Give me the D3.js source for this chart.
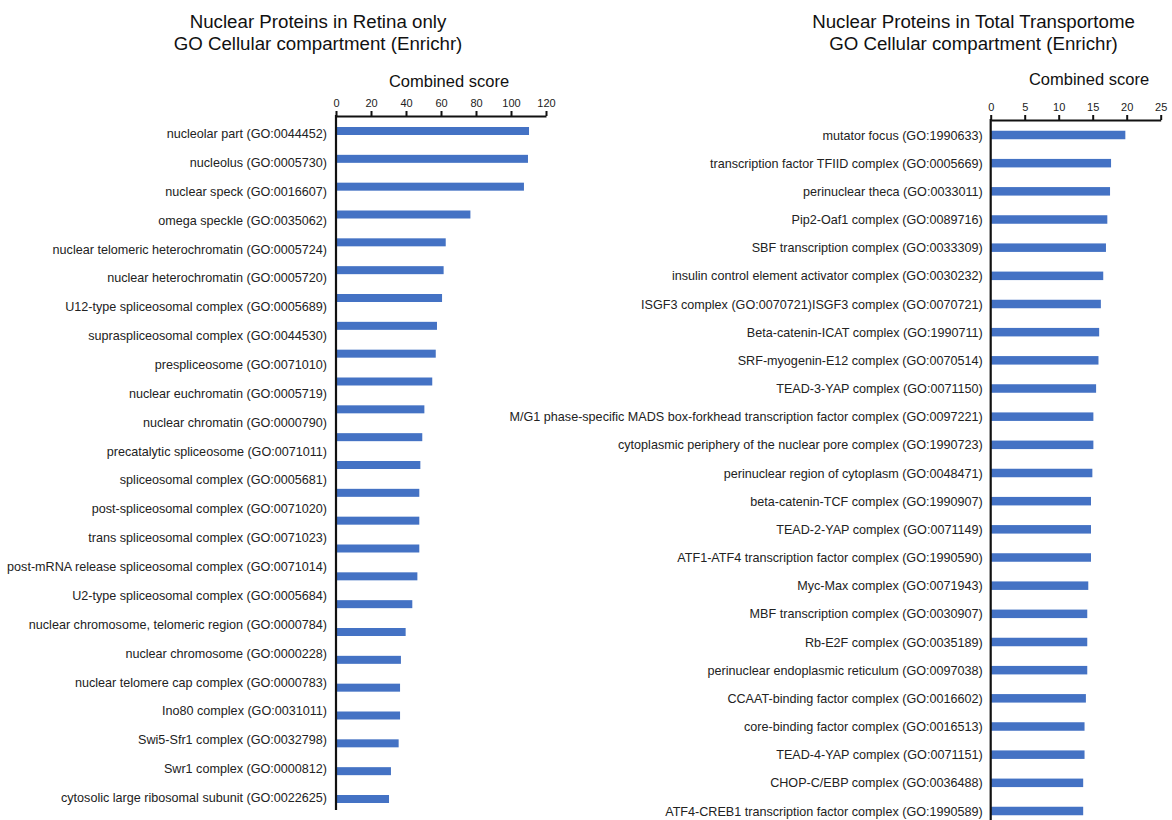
<!DOCTYPE html>
<html>
<head>
<meta charset="utf-8">
<script src="https://cdn.jsdelivr.net/npm/d3@7"></script>
<style>
  html, body { margin: 0; padding: 0; background: #fff; }
  svg { display: block; font-family: "Liberation Sans", Arial, sans-serif; }
</style>
</head>
<body>
<svg id="chart" width="1172" height="820"></svg>
<script>
// ---- Left panel: Retina only ----
const leftTitle = ["Nuclear Proteins in Retina only", "GO Cellular compartment (Enrichr)"];
const leftTerms = [
  "nucleolar part (GO:0044452)",
  "nucleolus (GO:0005730)",
  "nuclear speck (GO:0016607)",
  "omega speckle (GO:0035062)",
  "nuclear telomeric heterochromatin (GO:0005724)",
  "nuclear heterochromatin (GO:0005720)",
  "U12-type spliceosomal complex (GO:0005689)",
  "supraspliceosomal complex (GO:0044530)",
  "prespliceosome (GO:0071010)",
  "nuclear euchromatin (GO:0005719)",
  "nuclear chromatin (GO:0000790)",
  "precatalytic spliceosome (GO:0071011)",
  "spliceosomal complex (GO:0005681)",
  "post-spliceosomal complex (GO:0071020)",
  "trans spliceosomal complex (GO:0071023)",
  "post-mRNA release spliceosomal complex (GO:0071014)",
  "U2-type spliceosomal complex (GO:0005684)",
  "nuclear chromosome, telomeric region (GO:0000784)",
  "nuclear chromosome (GO:0000228)",
  "nuclear telomere cap complex (GO:0000783)",
  "Ino80 complex (GO:0031011)",
  "Swi5-Sfr1 complex (GO:0032798)",
  "Swr1 complex (GO:0000812)",
  "cytosolic large ribosomal subunit (GO:0022625)"
];
// bar column (the bar stack holds one more row than the label column)
const leftScores = [
  110.3, 109.7, 107.4, 76.8, 62.7, 61.5, 60.6, 57.7, 57.0, 55.0, 50.5, 49.3, 48.2,
  47.6, 47.6, 47.6, 46.5, 43.6, 39.8, 37.1, 36.6, 36.6, 35.8, 31.4, 30.3
];
const leftTicks = [0, 20, 40, 60, 80, 100, 120];

// ---- Right panel: Total Transportome ----
const rightTitle = ["Nuclear Proteins in Total Transportome", "GO Cellular compartment (Enrichr)"];
const rightTerms = [
  "mutator focus (GO:1990633)",
  "transcription factor TFIID complex (GO:0005669)",
  "perinuclear theca (GO:0033011)",
  "Pip2-Oaf1 complex (GO:0089716)",
  "SBF transcription complex (GO:0033309)",
  "insulin control element activator complex (GO:0030232)",
  "ISGF3 complex (GO:0070721)ISGF3 complex (GO:0070721)",
  "Beta-catenin-ICAT complex (GO:1990711)",
  "SRF-myogenin-E12 complex (GO:0070514)",
  "TEAD-3-YAP complex (GO:0071150)",
  "M/G1 phase-specific MADS box-forkhead transcription factor complex (GO:0097221)",
  "cytoplasmic periphery of the nuclear pore complex (GO:1990723)",
  "perinuclear region of cytoplasm (GO:0048471)",
  "beta-catenin-TCF complex (GO:1990907)",
  "TEAD-2-YAP complex (GO:0071149)",
  "ATF1-ATF4 transcription factor complex (GO:1990590)",
  "Myc-Max complex (GO:0071943)",
  "MBF transcription complex (GO:0030907)",
  "Rb-E2F complex (GO:0035189)",
  "perinuclear endoplasmic reticulum (GO:0097038)",
  "CCAAT-binding factor complex (GO:0016602)",
  "core-binding factor complex (GO:0016513)",
  "TEAD-4-YAP complex (GO:0071151)",
  "CHOP-C/EBP complex (GO:0036488)",
  "ATF4-CREB1 transcription factor complex (GO:1990589)"
];
const rightScores = [
  19.8, 17.7, 17.55, 17.15, 16.95, 16.55, 16.2, 15.95, 15.85, 15.5, 15.1, 15.1, 14.95,
  14.75, 14.75, 14.75, 14.35, 14.2, 14.2, 14.2, 14.0, 13.8, 13.8, 13.6, 13.6
];
const rightTicks = [0, 5, 10, 15, 20, 25];

const axisTitle = "Combined score";
const barColor = "#4472c4";

const svg = d3.select("#chart");

function panel(cfg) {
  const g = svg.append("g");

  const x = d3.scaleLinear().domain(cfg.xDomain).range([cfg.x0, cfg.x1]);
  const yBar = d3.scalePoint().domain(d3.range(cfg.scores.length)).range(cfg.barRange);
  const yLab = d3.scalePoint().domain(cfg.terms).range(cfg.labelRange);

  // titles
  g.append("text")
    .attr("x", cfg.titleX).attr("y", 28)
    .attr("text-anchor", "middle")
    .style("font-size", "18.7px").attr("fill", "#111")
    .text(cfg.title[0]);
  g.append("text")
    .attr("x", cfg.titleX).attr("y", 50)
    .attr("text-anchor", "middle")
    .style("font-size", "18.7px").attr("fill", "#111")
    .text(cfg.title[1]);

  // axis caption
  g.append("text")
    .attr("x", cfg.captionX).attr("y", cfg.captionY)
    .attr("text-anchor", "middle")
    .style("font-size", "16.5px").attr("fill", "#111")
    .text(axisTitle);

  // bars
  g.append("g").selectAll("rect")
    .data(cfg.scores)
    .join("rect")
    .attr("x", x(0))
    .attr("y", (d, i) => yBar(i) - cfg.barH / 2)
    .attr("width", d => x(d) - x(0))
    .attr("height", cfg.barH)
    .attr("fill", barColor);

  // top value axis
  const xAxis = g.append("g")
    .attr("transform", `translate(0,${cfg.axisY})`)
    .call(d3.axisTop(x).tickValues(cfg.ticks).tickSize(5).tickSizeOuter(0).tickPadding(4));
  xAxis.select(".domain").attr("stroke", "#111").attr("stroke-width", 2);
  xAxis.selectAll(".tick line").attr("stroke", "#111").attr("stroke-width", 2);
  xAxis.selectAll(".tick text")
    .style("font-size", "11px").style("font-family", "Liberation Sans, Arial, sans-serif")
    .attr("fill", "#222");

  // category axis
  const yAxis = g.append("g")
    .attr("transform", `translate(${x(0)},0)`)
    .call(d3.axisLeft(yLab).tickSize(0).tickPadding(cfg.labelPad));
  yAxis.select(".domain").remove();
  yAxis.selectAll(".tick text")
    .style("font-size", "12.6px").style("font-family", "Liberation Sans, Arial, sans-serif")
    .attr("fill", "#222");

  // vertical baseline
  g.append("line")
    .attr("x1", x(0)).attr("x2", x(0))
    .attr("y1", cfg.axisY - 1).attr("y2", cfg.lineEnd)
    .attr("stroke", "#111").attr("stroke-width", 2.2);
}

panel({
  title: leftTitle, titleX: 318,
  terms: leftTerms, scores: leftScores, ticks: leftTicks,
  xDomain: [0, 120], x0: 336, x1: 546,
  captionX: 449, captionY: 87,
  axisY: 116, barRange: [131, 799], labelRange: [133.5, 797.5],
  barH: 8, labelPad: 9, lineEnd: 810
});

panel({
  title: rightTitle, titleX: 973.5,
  terms: rightTerms, scores: rightScores, ticks: rightTicks,
  xDomain: [0, 25], x0: 990.7, x1: 1160.7,
  captionX: 1089, captionY: 85,
  axisY: 120, barRange: [135, 811], labelRange: [135, 811],
  barH: 8.5, labelPad: 8, lineEnd: 822
});
</script>
</body>
</html>
